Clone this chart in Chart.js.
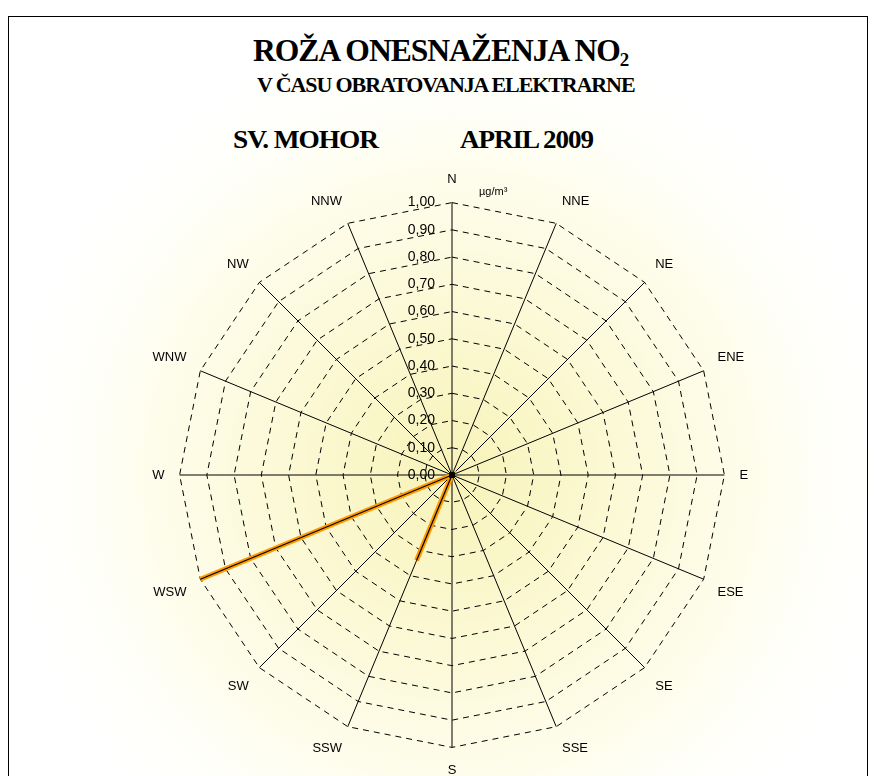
<!DOCTYPE html>
<html>
<head>
<meta charset="utf-8">
<script src="https://cdn.jsdelivr.net/npm/chart.js@4/dist/chart.umd.min.js"></script>
<style>
  html, body { margin: 0; padding: 0; width: 878px; height: 776px; overflow: hidden; background: #fff; }
  #frame {
    position: absolute; left: 8px; top: 16px; width: 858px; height: 800px;
    border: 1px solid #000;
    background: radial-gradient(circle at 443px 459px, #F8F3B8 0px, #FBF8D2 150px, #FEFDEC 300px, #FFFFFA 380px, #FFFFFF 440px);
  }
  .t {
    position: absolute; font-family: "Liberation Serif", "Times New Roman", serif;
    font-weight: bold; white-space: nowrap; color: #000; line-height: 1;
    transform-origin: left top; letter-spacing: -1px;
  }
  .t sub { font-size: 60%; vertical-align: -0.25em; }
  #wrap { position: absolute; left: 145px; top: 173px; width: 612px; height: 606px; }
</style>
</head>
<body>
<div id="frame"></div>
<div class="t" id="t1" data-cx="440" data-w="375" style="top:35px;font-size:31px;">ROŽA ONESNAŽENJA NO<sub>2</sub></div>
<div class="t" id="t2" data-cx="446" data-w="378" style="top:75px;font-size:20px;">V ČASU OBRATOVANJA ELEKTRARNE</div>
<div class="t" id="t3" data-cx="305" data-w="145" style="top:127px;font-size:26px;">SV. MOHOR</div>
<div class="t" id="t4" data-cx="526" data-w="133" style="top:127px;font-size:26px;">APRIL 2009</div>
<div id="wrap"><canvas id="myChart"></canvas></div>
<script>
// wind directions, clockwise from north
const directions = ['N', 'NNE', 'NE', 'ENE', 'E', 'ESE', 'SE', 'SSE',
  'S', 'SSW', 'SW', 'WSW', 'W', 'WNW', 'NW', 'NNW'];
// NO2 concentration per direction, µg/m3
const no2 = [0, 0, 0, 0, 0, 0, 0, 0, 0, 0.34, 0, 1.0, 0, 0, 0, 0];
const tickLabels = ['0,00', '0,10', '0,20', '0,30', '0,40', '0,50',
  '0,60', '0,70', '0,80', '0,90', '1,00'];
const unitLabel = 'µg/m³';

// squeeze the title lines to the width they have in the picture
document.querySelectorAll('.t').forEach(el => {
  const w = +el.dataset.w;
  el.style.left = (+el.dataset.cx - w / 2) + 'px';
  el.style.transform = 'scaleX(' + (w / el.offsetWidth) + ')';
});

const tickText = {
  id: 'tickText',
  afterDraw(chart) {
    const s = chart.scales.r;
    const c = chart.ctx;
    c.save();
    c.fillStyle = '#000';
    c.font = '14px "Liberation Sans", Arial, sans-serif';
    c.textAlign = 'right';
    c.textBaseline = 'middle';
    s.ticks.forEach((t, i) => {
      c.fillText(tickLabels[i], s.xCenter - 17, s.yCenter - s.getDistanceFromCenterForValue(t.value));
    });
    c.font = '11px "Liberation Sans", Arial, sans-serif';
    c.textAlign = 'left';
    c.fillText(unitLabel, s.xCenter + 27, s.yCenter - s.getDistanceFromCenterForValue(1) - 11);
    c.restore();
  }
};

const ctx = document.getElementById('myChart');
const myChart = new Chart(ctx, {
  type: 'radar',
  data: {
    labels: directions,
    datasets: [
      {
        data: no2,
        borderColor: '#000',
        borderWidth: 1.2,
        backgroundColor: '#000',
        pointRadius: c => (c.raw === 0 ? 3 : 0),
        pointBorderWidth: 0,
        fill: false,
        order: 0,
      },
      {
        data: no2,
        borderColor: '#FF9900',
        borderWidth: 5,
        pointRadius: 0,
        fill: false,
        order: 1,
      },
    ],
  },
  options: {
    responsive: true,
    maintainAspectRatio: false,
    animation: false,
    plugins: { legend: { display: false }, tooltip: { enabled: false } },
    scales: {
      r: {
        min: 0,
        max: 1,
        ticks: { display: false, stepSize: 0.1 },
        grid: { color: '#000', lineWidth: 1 },
        border: { dash: [6, 5] },
        angleLines: { color: '#000', lineWidth: 1 },
        pointLabels: {
          color: '#000',
          padding: 15,
          font: { size: 13, family: '"Liberation Sans", Arial, sans-serif' },
        },
      },
    },
  },
  plugins: [tickText],
});
</script>
</body>
</html>
